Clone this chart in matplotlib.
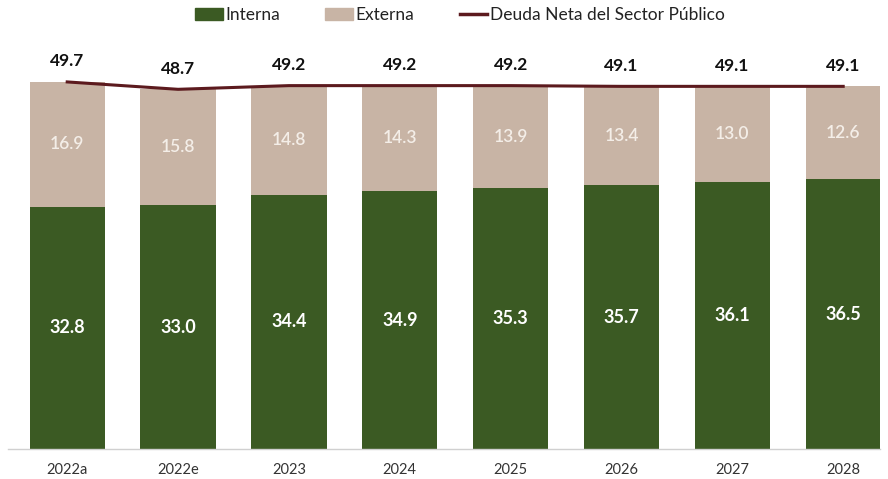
import numpy as np
import matplotlib.pyplot as plt
from matplotlib.lines import Line2D
from matplotlib.patches import Patch

years = ['2022a', '2022e', '2023', '2024', '2025', '2026', '2027', '2028']
interna = [32.8, 33.0, 34.4, 34.9, 35.3, 35.7, 36.1, 36.5]
externa = [16.9, 15.8, 14.8, 14.3, 13.9, 13.4, 13.0, 12.6]
deuda_neta = [49.7, 48.7, 49.2, 49.2, 49.2, 49.1, 49.1, 49.1]

green = '#3b5a23'
beige = '#c8b4a5'
maroon = '#5c1a1e'

plt.rcParams['font.family'] = ['Lato', 'DejaVu Sans']

fig = plt.figure(figsize=(8.88, 4.79), dpi=100)
ax = fig.add_axes([8 / 888, 30 / 479, 872 / 888, 404 / 479])

x = np.arange(len(years))
w = 0.68
ax.bar(x, interna, width=w, color=green, zorder=2)
ax.bar(x, externa, width=w, bottom=interna, color=beige, zorder=2)
ax.plot(x, deuda_neta, color=maroon, linewidth=2.2, zorder=3)

for i in range(len(years)):
    ax.text(x[i], interna[i] / 2, f'{interna[i]:.1f}', ha='center', va='center',
            color='white', fontsize=13, fontweight='bold')
    ax.text(x[i], interna[i] + externa[i] / 2, f'{externa[i]:.1f}', ha='center',
            va='center', color='#f4eee8', fontsize=12.5, fontweight='semibold')
    ax.annotate(f'{deuda_neta[i]:.1f}', (x[i], deuda_neta[i]), xytext=(0, 9),
                textcoords='offset points', ha='center', va='bottom',
                fontsize=12.5, fontweight='bold', color='#111111')

ax.set_xlim(-0.534, 7.332)
ax.set_ylim(0, 54.7)
ax.set_xticks(x, years)
ax.set_yticks([])
ax.tick_params(axis='x', length=0, pad=10, labelsize=10.5, labelcolor='#333333')
for s in ['top', 'right', 'left']:
    ax.spines[s].set_visible(False)
ax.spines['bottom'].set_color('#d0d0d0')
ax.spines['bottom'].set_linewidth(1)

handles = [Patch(color=green, label='Interna'),
           Patch(color=beige, label='Externa'),
           Line2D([0], [0], color=maroon, linewidth=2.5, label='Deuda Neta del Sector Público')]
fig.legend(handles=handles, loc='center', bbox_to_anchor=(460 / 888, 1 - 15 / 479),
           ncol=3, frameon=False, fontsize=12.5, handlelength=1.6, handleheight=0.7,
           handletextpad=0.15, columnspacing=2.6, labelcolor='#222222')

fig.savefig('out.png', dpi=100)
